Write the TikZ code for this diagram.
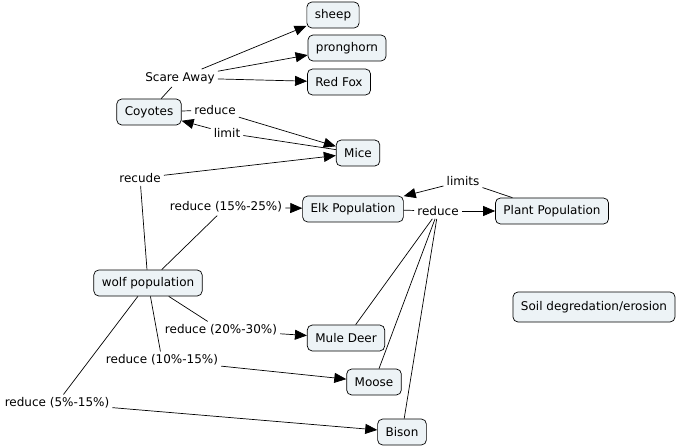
\documentclass[tikz,border=0pt]{standalone}
\usepackage{fontspec}
\setmainfont{DejaVu Sans}
\usetikzlibrary{arrows.meta}
\definecolor{conceptfill}{RGB}{237,243,246}

\begin{document}
\begin{tikzpicture}[x=1pt, y=-1pt, font=\fontsize{12}{14}\selectfont,
	concept/.style={draw, rounded corners=5pt, fill=conceptfill, line width=0.7pt, inner xsep=8pt, minimum height=26pt},
	link/.style={fill=white, inner sep=3pt},
	arr/.style={-{Triangle[length=12pt, width=10pt]}}]
	\useasboundingbox (0,0) rectangle (679,446);
	% concepts
	\node[concept] (sheep) at (333,15) {sheep};
	\node[concept] (pronghorn) at (347,48) {pronghorn};
	\node[concept] (redfox) at (339,82) {Red Fox};
	\node[concept] (coyotes) at (149,112) {Coyotes};
	\node[concept] (mice) at (358,153) {Mice};
	\node[concept] (elk) at (353,209) {Elk Population};
	\node[concept] (plant) at (552,211) {Plant Population};
	\node[concept] (wolf) at (148,283) {wolf population};
	\node[concept, minimum height=30pt] (soil) at (594,307) {Soil degredation/erosion};
	\node[concept] (muledeer) at (346,338) {Mule Deer};
	\node[concept] (moose) at (374,382) {Moose};
	\node[concept] (bison) at (402,432) {Bison};
	% linking phrases
	\node[link] (scare) at (180,78) {Scare Away};
	\node[link] (cred) at (215,110) {reduce};
	\node[link] (climit) at (227,133) {limit};
	\node[link] (recude) at (140,178) {recude};
	\node[link] (welk) at (226,207) {reduce (15\%-25\%)};
	\node[link] (ered) at (438,211) {reduce};
	\node[link] (plimits) at (463,181) {limits};
	\node[link] (wdeer) at (221,330) {reduce (20\%-30\%)};
	\node[link] (wmoose) at (162,360) {reduce (10\%-15\%)};
	\node[link] (wbison) at (57,403) {reduce (5\%-15\%)};
	% connections
	\begin{scope}[line width=0.7pt]
	\draw (coyotes) -- (scare);
	\foreach \t in {sheep, pronghorn, redfox}{
		\draw[arr] (scare) -- (\t);
	}
	\draw (coyotes) -- (cred);
	\draw[arr] (cred) -- (mice);
	\draw (mice) -- (climit);
	\draw[arr] (climit) -- (coyotes);
	\draw (wolf) -- (recude);
	\draw[arr] (recude) -- (mice);
	\draw (wolf) -- (welk);
	\draw[arr] (welk) -- (elk);
	\draw (elk) -- (ered);
	\draw[arr] (ered) -- (plant);
	\foreach \t in {muledeer, moose, bison}{
		\draw (ered) -- (\t);
	}
	\draw (plant) -- (plimits);
	\draw[arr] (plimits) -- (elk);
	\draw (wolf) -- (wdeer);
	\draw[arr] (wdeer) -- (muledeer);
	\draw (wolf) -- (wmoose);
	\draw[arr] (wmoose) -- (moose);
	\draw (wolf) -- (wbison);
	\draw[arr] (wbison) -- (bison);
	\end{scope}
\end{tikzpicture}
\end{document}
